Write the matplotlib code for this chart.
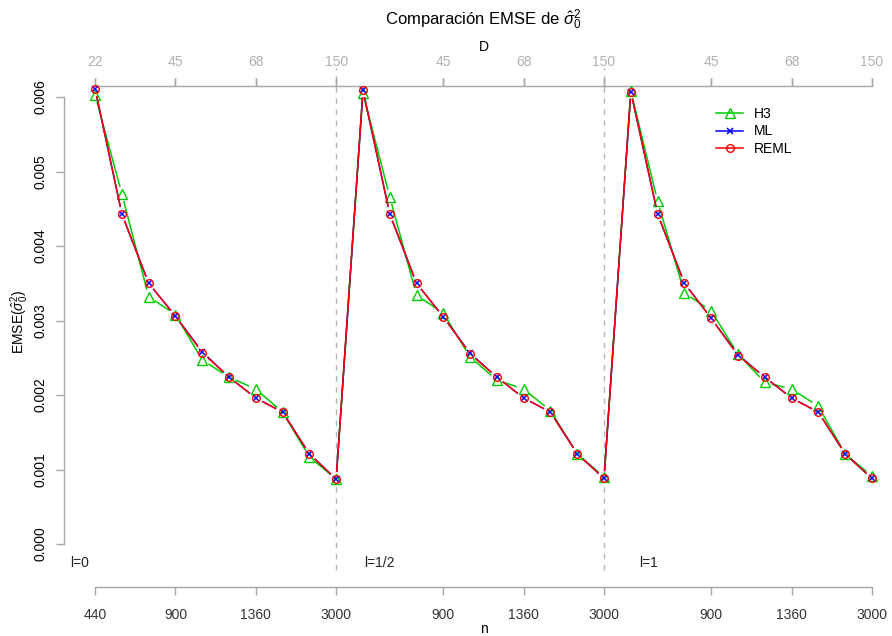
import numpy as np
import matplotlib
matplotlib.use("Agg")
import matplotlib.pyplot as plt
from matplotlib.lines import Line2D

plt.rcParams['font.family'] = ['Liberation Sans', 'DejaVu Sans']
plt.rcParams['mathtext.fontset'] = 'custom'
plt.rcParams['mathtext.rm'] = 'Liberation Sans'
plt.rcParams['mathtext.it'] = 'Liberation Sans:italic'

# Position index of each design point (three blocks of ten: l = 0, 1/2, 1)
idx = np.arange(1, 31)

# EMSE of sigma_0^2 for each estimator
emse_h3 = [0.00603, 0.00470, 0.00332, 0.00308, 0.00247, 0.00224, 0.00208, 0.00177, 0.00117, 0.00087,
           0.00605, 0.00466, 0.00334, 0.00310, 0.00251, 0.00220, 0.00208, 0.00179, 0.00121, 0.00090,
           0.00608, 0.00460, 0.00337, 0.00313, 0.00255, 0.00217, 0.00208, 0.00185, 0.00121, 0.00091]
emse_ml = [0.00611, 0.00443, 0.00350, 0.00306, 0.00258, 0.00224, 0.00196, 0.00177, 0.00121, 0.00087,
           0.00609, 0.00443, 0.00350, 0.00305, 0.00256, 0.00224, 0.00196, 0.00177, 0.00121, 0.00088,
           0.00607, 0.00443, 0.00350, 0.00303, 0.00254, 0.00224, 0.00196, 0.00177, 0.00121, 0.00088]
emse_reml = [0.00611, 0.00443, 0.00350, 0.00306, 0.00257, 0.00224, 0.00196, 0.00177, 0.00121, 0.00087,
             0.00609, 0.00443, 0.00350, 0.00305, 0.00255, 0.00224, 0.00196, 0.00177, 0.00121, 0.00088,
             0.00607, 0.00443, 0.00350, 0.00303, 0.00253, 0.00224, 0.00196, 0.00177, 0.00121, 0.00088]

# Axis annotation
n_tick_pos = [1, 4, 7, 10, 14, 17, 20, 24, 27, 30]
n_labels = ['440', '900', '1360', '3000', '900', '1360', '3000', '900', '1360', '3000']
d_labels = ['22', '45', '68', '150', '45', '68', '150', '45', '68', '150']
y_ticks = [0.000, 0.001, 0.002, 0.003, 0.004, 0.005, 0.006]
block_sep = [10, 20]
block_names = ['l=0', 'l=1/2', 'l=1']
block_text_x = [0.05, 11.05, 21.3]

W, H = 892, 636
fig = plt.figure(figsize=(W / 100, H / 100), dpi=100)
L, R, T, B = 64, 903, 86, 587
ax = fig.add_axes([L / W, (H - B) / H, (R - L) / W, (B - T) / H])
ax.set_xlim(-0.16, 31.16)
ax.set_ylim(-0.000577, 0.006148)
ax.patch.set_visible(False)

grey_axis = '#a6a6a6'
for s in ['left', 'top', 'bottom']:
    ax.spines[s].set_color(grey_axis)
    ax.spines[s].set_linewidth(1.0)
ax.spines['right'].set_visible(False)
ax.spines['left'].set_bounds(0, 0.006)
ax.spines['bottom'].set_bounds(1, 30)
ax.spines['top'].set_bounds(1, 30)

ax.set_yticks(y_ticks)
ax.set_yticklabels([f'{v:.3f}' for v in y_ticks], rotation=90, va='center', fontsize=10, color='black')
ax.tick_params(axis='y', length=6, width=1.0, color=grey_axis, pad=6)

ax.set_xticks(n_tick_pos)
ax.set_xticklabels(n_labels, fontsize=10, color='#333333')
ax.tick_params(axis='x', bottom=True, top=True, labelbottom=True, labeltop=False,
               length=6, width=1.0, color=grey_axis, pad=9)

top = ax.secondary_xaxis('top')
top.set_xticks(n_tick_pos)
top.set_xticklabels(d_labels, fontsize=10, color='#b0b0b0')
top.tick_params(length=6, width=1.0, color=grey_axis, pad=6)
top.spines['top'].set_visible(False)

# Separators between blocks
for xs in block_sep:
    ax.plot([xs, xs], [-0.000349, 0.006389], color='#b5b5b5', lw=1.0,
            ls=(0, (4, 4)), clip_on=False, zorder=1)

for tx, name in zip(block_text_x, block_names):
    ax.text(tx, -0.000255, name, fontsize=10, color='#222222', ha='left', va='center')


def draw_b(xv, yv, color, marker, ms, mew, gap=8.0, z=3):
    """Lines with gaps around the points, then the point symbols."""
    pts = ax.transData.transform(np.column_stack([xv, yv]))
    inv = ax.transData.inverted()
    for (x0, y0), (x1, y1) in zip(pts[:-1], pts[1:]):
        d = np.hypot(x1 - x0, y1 - y0)
        if d <= 2 * gap:
            continue
        ux, uy = (x1 - x0) / d, (y1 - y0) / d
        a = inv.transform([x0 + ux * gap, y0 + uy * gap])
        b = inv.transform([x1 - ux * gap, y1 - uy * gap])
        ax.plot([a[0], b[0]], [a[1], b[1]], color=color, lw=1.1, zorder=z, clip_on=False)
    ax.plot(xv, yv, ls='none', marker=marker, ms=ms, mfc='none', mec=color, mew=mew,
            zorder=z + 0.5, clip_on=False)


c_h3, c_ml, c_reml = '#00cd00', '#0000ff', '#ff0000'
draw_b(idx, emse_h3, c_h3, '^', 7.0, 1.0, z=3)
draw_b(idx, emse_ml, c_ml, 'x', 4.5, 1.1, z=4)
draw_b(idx, emse_reml, c_reml, 'o', 5.5, 1.0, z=5)

handles = [Line2D([], [], color=c_h3, lw=1.1, marker='^', ms=7.0, mfc='none', mec=c_h3),
           Line2D([], [], color=c_ml, lw=1.1, marker='x', ms=4.5, mec=c_ml, mew=1.1),
           Line2D([], [], color=c_reml, lw=1.1, marker='o', ms=5.5, mfc='none', mec=c_reml)]
ax.legend(handles, ['H3', 'ML', 'REML'], loc='upper left', frameon=False, fontsize=10,
          bbox_to_anchor=(716 / W, 1 - 107 / H), bbox_transform=fig.transFigure,
          borderaxespad=0, borderpad=0, handlelength=1.95, handletextpad=0.8,
          labelspacing=0.25)

fig.text(483.5 / W, 1 - 20 / H, r'Comparación EMSE de $\hat{\sigma}_0^2$',
         ha='center', va='center', fontsize=12)
fig.text(483.5 / W, 1 - 47 / H, 'D', ha='center', va='center', fontsize=10)
fig.text(483.5 / W, 1 - 629 / H, 'n', ha='center', va='center', fontsize=10)
fig.text(20 / W, 1 - 322 / H, r'EMSE($\hat{\sigma}_0^2$)', ha='center', va='center',
         rotation=90, fontsize=10)

fig.savefig('out.png', dpi=100)
